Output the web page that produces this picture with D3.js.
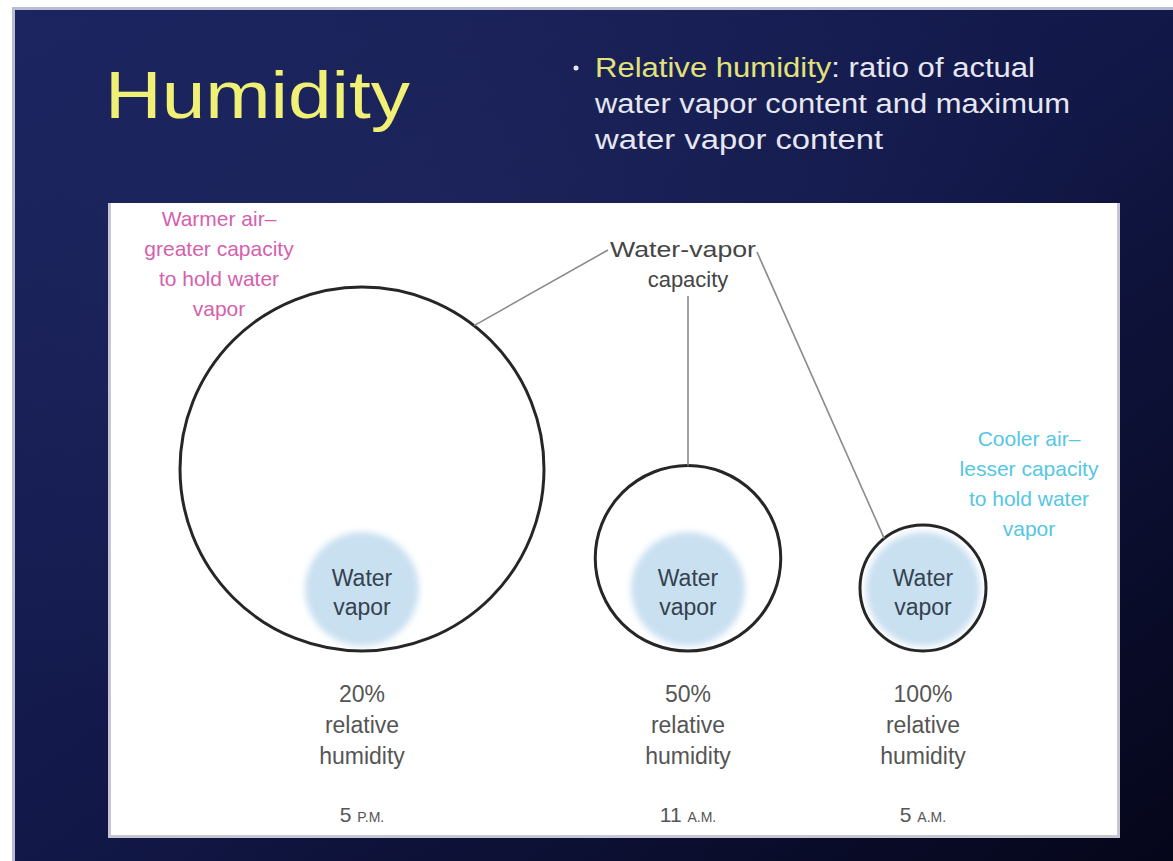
<!DOCTYPE html>
<html>
<head>
<meta charset="utf-8">
<script src="https://cdn.jsdelivr.net/npm/d3@7"></script>
<style>
  html, body { margin: 0; padding: 0; background: #ffffff; }
  svg { display: block; font-family: "Liberation Sans", Arial, sans-serif; }
</style>
</head>
<body>
<div id="chart"></div>
<script>
// data
var times = ["5", "11", "5"];
var timeSuffix = ["P.M.", "A.M.", "A.M."];
var capacity = [5, 2, 1];          // relative water-vapor capacity of the air
var vaporContent = [1, 1, 1];      // same amount of water vapor in each case
var humidity = [20, 50, 100];      // relative humidity, %
var bulletLines = ["Relative humidity: ratio of actual", "water vapor content and maximum", "water vapor content"];
var warmLines = ["Warmer air\u2013", "greater capacity", "to hold water", "vapor"];
var coolLines = ["Cooler air\u2013", "lesser capacity", "to hold water", "vapor"];
var calloutLines = ["Water-vapor", "capacity"];

var width = 1173;
var height = 861;

var svg = d3.select('#chart')
  .append('svg')
  .attr('width', width)
  .attr('height', height);

var defs = svg.append('defs');

var bg = defs.append('linearGradient')
  .attr('id', 'bg')
  .attr('x1', '0').attr('y1', '0')
  .attr('x2', '1').attr('y2', '1');
bg.append('stop').attr('offset', '0%').attr('stop-color', '#1a235e');
bg.append('stop').attr('offset', '50%').attr('stop-color', '#121848');
bg.append('stop').attr('offset', '100%').attr('stop-color', '#05061a');

var glow = defs.append('radialGradient')
  .attr('id', 'glow')
  .attr('cx', '0.35').attr('cy', '0.3').attr('r', '0.6');
glow.append('stop').attr('offset', '0%').attr('stop-color', '#2a3370').attr('stop-opacity', 0.35);
glow.append('stop').attr('offset', '100%').attr('stop-color', '#2a3370').attr('stop-opacity', 0);

defs.append('filter')
  .attr('id', 'soft')
  .attr('x', '-20%').attr('y', '-20%').attr('width', '140%').attr('height', '140%')
  .append('feGaussianBlur').attr('stdDeviation', 3);

// slide frame
svg.append('rect')
  .attr('x', 12).attr('y', 7)
  .attr('width', width - 12).attr('height', height - 7)
  .attr('fill', '#b9bdd2');
svg.append('rect')
  .attr('x', 15).attr('y', 10)
  .attr('width', width - 15).attr('height', height - 10)
  .attr('fill', 'url(#bg)');
svg.append('rect')
  .attr('x', 15).attr('y', 10)
  .attr('width', width - 15).attr('height', height - 10)
  .attr('fill', 'url(#glow)');

// title + bullet
svg.append('text')
  .attr('x', 105).attr('y', 118)
  .attr('textLength', 305)
  .attr('lengthAdjust', 'spacingAndGlyphs')
  .attr('fill', '#f0f074')
  .style('font-size', '66px')
  .text('Humidity');

svg.append('circle')
  .attr('cx', 576).attr('cy', 68).attr('r', 2.5)
  .attr('fill', '#e8e8f0');

var bulletWidths = [440, 475, 288];
var bullet = svg.append('g');
bulletLines.forEach(function(line, i) {
  var t = bullet.append('text')
    .attr('x', 595)
    .attr('y', 77 + i * 36)
    .attr('textLength', bulletWidths[i])
    .attr('lengthAdjust', 'spacingAndGlyphs')
    .attr('fill', '#e6e7f0')
    .style('font-size', '27px');
  if (i === 0) {
    t.append('tspan').attr('fill', '#e2e27a').text('Relative humidity');
    t.append('tspan').text(line.replace('Relative humidity', ''));
  } else {
    t.text(line);
  }
});

// white panel
svg.append('rect')
  .attr('x', 108).attr('y', 203)
  .attr('width', 1012).attr('height', 635)
  .attr('fill', '#c6c6d2');
svg.append('rect')
  .attr('x', 111).attr('y', 203)
  .attr('width', 1006).attr('height', 632)
  .attr('fill', '#ffffff');

// scales
var idx = d3.range(capacity.length);
var x = d3.scaleOrdinal().domain(idx).range([362, 688, 923]);
var r = d3.scaleLinear().domain([1, 5]).range([63, 182]);
var rv = d3.scaleLinear().domain([0, 1]).range([0, 57]);
var ground = 651;

var cases = idx.map(function(i) {
  return { i: i, cap: capacity[i], vapor: vaporContent[i], rh: humidity[i], time: times[i], suffix: timeSuffix[i] };
});

var g = svg.append('g');

// water vapor blobs
g.selectAll('circle.vapor')
  .data(cases)
  .enter()
  .append('circle')
  .attr('class', 'vapor')
  .attr('cx', function(d) { return x(d.i); })
  .attr('cy', function(d) { return ground - rv(d.vapor) - 5; })
  .attr('r', function(d) { return rv(d.vapor); })
  .attr('fill', '#c9e0f1')
  .attr('filter', 'url(#soft)');

// capacity circles
g.selectAll('circle.cap')
  .data(cases)
  .enter()
  .append('circle')
  .attr('class', 'cap')
  .attr('cx', function(d) { return x(d.i); })
  .attr('cy', function(d) { return ground - r(d.cap); })
  .attr('r', function(d) { return r(d.cap); })
  .attr('fill', 'none')
  .attr('stroke', '#262626')
  .attr('stroke-width', 3);

var txtStyle = function(sel, size, color) {
  sel.attr('text-anchor', 'middle')
    .attr('fill', color)
    .style('font-size', size + 'px');
};

// "Water vapor" labels
g.selectAll('text.wv')
  .data(cases)
  .enter()
  .append('text')
  .attr('class', 'wv')
  .call(txtStyle, 23, '#34424f')
  .each(function(d) {
    var cy = ground - rv(d.vapor) - 5;
    var t = d3.select(this);
    t.append('tspan').attr('x', x(d.i)).attr('y', cy - 3).text('Water');
    t.append('tspan').attr('x', x(d.i)).attr('y', cy + 26).text('vapor');
  });

// humidity labels
g.selectAll('text.rh')
  .data(cases)
  .enter()
  .append('text')
  .attr('class', 'rh')
  .call(txtStyle, 23, '#555555')
  .each(function(d) {
    var t = d3.select(this);
    t.append('tspan').attr('x', x(d.i)).attr('y', 702).text(d.rh + '%');
    t.append('tspan').attr('x', x(d.i)).attr('y', 733).text('relative');
    t.append('tspan').attr('x', x(d.i)).attr('y', 764).text('humidity');
  });

// time labels
g.selectAll('text.time')
  .data(cases)
  .enter()
  .append('text')
  .attr('class', 'time')
  .attr('x', function(d) { return x(d.i); })
  .attr('y', 822)
  .call(txtStyle, 21, '#555555')
  .each(function(d) {
    var t = d3.select(this);
    t.append('tspan').text(d.time + ' ');
    t.append('tspan').style('font-size', '14px').text(d.suffix);
  });

// side notes
var notes = [
  { lines: warmLines, cx: 219, y: 226, color: '#d55fae' },
  { lines: coolLines, cx: 1029, y: 446, color: '#55c6e4' }
];
notes.forEach(function(n) {
  var t = g.append('text').call(txtStyle, 21, n.color);
  n.lines.forEach(function(line, k) {
    t.append('tspan').attr('x', n.cx).attr('y', n.y + k * 30).text(line);
  });
});

// callout
var calloutW = 146;
var calloutX = x(1) - 5;
g.selectAll('text.callout')
  .data(calloutLines)
  .enter()
  .append('text')
  .attr('class', 'callout')
  .attr('x', function(d, k) { return k === 0 ? calloutX : x(1); })
  .attr('y', function(d, k) { return 257 + k * 30; })
  .attr('textLength', function(d, k) { return k === 0 ? calloutW : null; })
  .attr('lengthAdjust', 'spacingAndGlyphs')
  .call(txtStyle, 22, '#454545')
  .text(function(d) { return d; });

var onCircle = function(i, deg) {
  var a = deg * Math.PI / 180;
  var rr = r(capacity[i]);
  return [x(i) + rr * Math.cos(a), ground - rr + rr * Math.sin(a)];
};

var leaders = [
  [[calloutX - calloutW / 2 - 2, 250], onCircle(0, -52)],
  [[x(1), 296], onCircle(1, -90)],
  [[calloutX + calloutW / 2 + 1, 252], onCircle(2, -128)]
];

g.selectAll('line.leader')
  .data(leaders)
  .enter()
  .append('line')
  .attr('class', 'leader')
  .attr('x1', function(d) { return d[0][0]; })
  .attr('y1', function(d) { return d[0][1]; })
  .attr('x2', function(d) { return d[1][0]; })
  .attr('y2', function(d) { return d[1][1]; })
  .attr('stroke', '#8a8a8a')
  .attr('stroke-width', 1.6);
</script>
</body>
</html>
